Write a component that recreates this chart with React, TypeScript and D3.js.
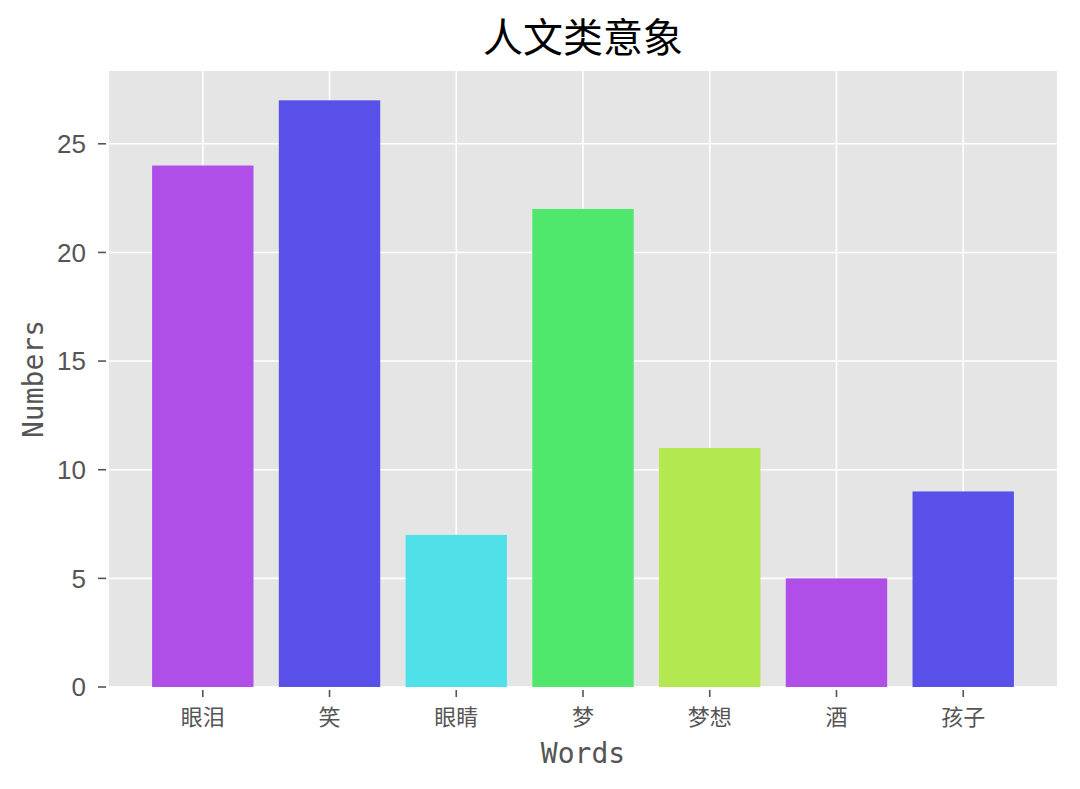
import * as d3 from 'd3';

const words = ['眼泪', '笑', '眼睛', '梦', '梦想', '酒', '孩子'];
const counts = [24, 27, 7, 22, 11, 5, 9];
const barColors = ['#b04ee8', '#5850e8', '#50e0e8', '#50e86c', '#b4e850', '#b04ee8', '#5850e8'];
const yTicks = [0, 5, 10, 15, 20, 25];

const W = 1080;
const H = 789;
const margin = { top: 71, right: 23, bottom: 102, left: 109 };
const monoFont = '"DejaVu Sans Mono", "Noto Sans CJK SC", monospace';
const cjkFont = '"Noto Sans CJK SC", "DejaVu Sans", sans-serif';
const numFont = '"Liberation Sans", Arial, sans-serif';

export default function App() {
  const innerW = W - margin.left - margin.right;
  const innerH = H - margin.top - margin.bottom;

  // matplotlib style limits: bars at integer positions, width 0.8, 5% margins
  const x = d3.scaleLinear().domain([-0.74, words.length - 1 + 0.74]).range([0, innerW]);
  const y = d3.scaleLinear().domain([0, 28.35]).range([innerH, 0]);
  const barW = x(0.8) - x(0);

  return (
    <svg width={W} height={H} style={{ display: 'block', margin: '-8px' }}>
      <rect width={W} height={H} fill="#fff" />
      <text
        x={margin.left + innerW / 2}
        y={52}
        textAnchor="middle"
        fontFamily={cjkFont}
        fontSize={40}
        fill="#000"
      >
        人文类意象
      </text>
      <g transform={`translate(${margin.left},${margin.top})`}>
        <rect width={innerW} height={innerH} fill="#e5e5e5" />
        {yTicks.map((t) => (
          <line key={`gy${t}`} x1={0} x2={innerW} y1={y(t)} y2={y(t)} stroke="#fff" strokeWidth={1.6} />
        ))}
        {words.map((w, i) => (
          <line key={`gx${w}`} x1={x(i)} x2={x(i)} y1={0} y2={innerH} stroke="#fff" strokeWidth={1.6} />
        ))}
        {words.map((w, i) => (
          <rect
            key={`b${w}`}
            x={x(i) - barW / 2}
            y={y(counts[i])}
            width={barW}
            height={innerH - y(counts[i])}
            fill={barColors[i]}
          />
        ))}
        {yTicks.map((t) => (
          <g key={`ty${t}`} transform={`translate(0,${y(t)})`}>
            <line x1={-11} x2={-3} stroke="#555" strokeWidth={1.6} />
            <text x={-23} dy="0.36em" textAnchor="end" fontFamily={numFont} fontSize={26} fill="#555">
              {t}
            </text>
          </g>
        ))}
        {words.map((w, i) => (
          <g key={`tx${w}`} transform={`translate(${x(i)},${innerH})`}>
            <line y1={3} y2={10} stroke="#555" strokeWidth={1.6} />
            <text y={38} textAnchor="middle" fontFamily={cjkFont} fontSize={22} fill="#555">
              {w}
            </text>
          </g>
        ))}
      </g>
      <text
        x={margin.left + innerW / 2}
        y={763}
        textAnchor="middle"
        fontFamily={monoFont}
        fontSize={28}
        fill="#555"
      >
        Words
      </text>
      <text
        transform={`translate(43,${margin.top + innerH / 2}) rotate(-90)`}
        textAnchor="middle"
        fontFamily={monoFont}
        fontSize={28}
        fill="#555"
      >
        Numbers
      </text>
    </svg>
  );
}
